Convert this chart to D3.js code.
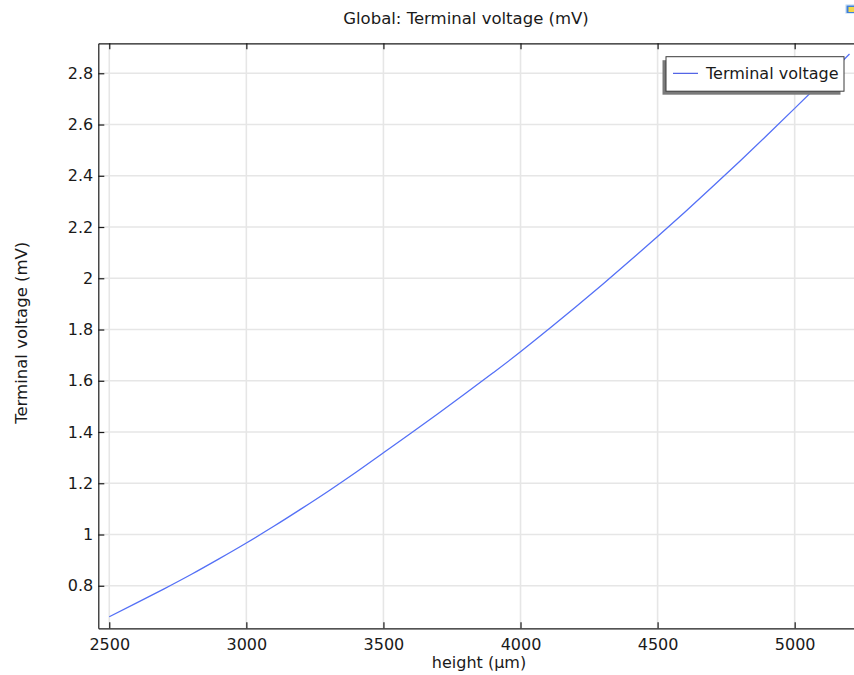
<!DOCTYPE html>
<html>
<head>
<meta charset="utf-8">
<script src="https://cdn.jsdelivr.net/npm/d3@7"></script>
<style>
  html, body { margin: 0; padding: 0; background: #fff; }
  svg { display: block; font-family: "DejaVu Sans", sans-serif; }
</style>
</head>
<body>
<svg id="chart" width="854" height="675"></svg>
<script>
// Parametric sweep: plate height (µm) vs. terminal voltage (mV)
const heights = [2500, 2600, 2700, 2800, 2900, 3000, 3100, 3200, 3300, 3400,
                 3500, 3600, 3700, 3800, 3900, 4000, 4100, 4200, 4300, 4400,
                 4500, 4600, 4700, 4800, 4900, 5000, 5100, 5200];
const voltages = [0.679, 0.733, 0.788, 0.845, 0.905, 0.967, 1.032, 1.100, 1.170, 1.243,
                  1.319, 1.395, 1.472, 1.551, 1.631, 1.713, 1.799, 1.887, 1.977, 2.069,
                  2.163, 2.259, 2.357, 2.457, 2.559, 2.663, 2.768, 2.875];
const xTicks = [2500, 3000, 3500, 4000, 4500, 5000];
const yTicks = [0.8, 1, 1.2, 1.4, 1.6, 1.8, 2, 2.2, 2.4, 2.6, 2.8];

const titleText = "Global: Terminal voltage (mV)";
const xTitle = "height (µm)";
const yTitle = "Terminal voltage (mV)";
const seriesName = "Terminal voltage";

const svg = d3.select("#chart");
const plot = { left: 98.3, top: 43.3, right: 858, bottom: 628.3 };

const x = d3.scaleLinear().domain([2460, 5231]).range([plot.left, plot.right]);
const y = d3.scaleLinear().domain([0.634, 2.917]).range([plot.bottom, plot.top]);

const lineColor = "#5470f6";
const fontSize = 16;

// Grid
const grid = svg.append("g").attr("stroke", "#e6e6e6").attr("stroke-width", 1.6);
grid.selectAll("line.v").data(xTicks).join("line")
  .attr("x1", d => x(d)).attr("x2", d => x(d))
  .attr("y1", plot.top).attr("y2", plot.bottom);
grid.selectAll("line.h").data(yTicks).join("line")
  .attr("x1", plot.left).attr("x2", plot.right)
  .attr("y1", d => y(d)).attr("y2", d => y(d));

// Axes with inward ticks
const axisStyle = g => {
  g.select(".domain").attr("stroke", "#1a1a1a").attr("stroke-width", 1.2);
  g.selectAll(".tick line").attr("stroke", "#1a1a1a").attr("stroke-width", 1.2);
  g.selectAll(".tick text").attr("fill", "#1a1a1a")
    .attr("font-size", fontSize).attr("font-family", "DejaVu Sans, sans-serif");
};

svg.append("g")
  .attr("transform", `translate(0,${plot.bottom})`)
  .call(d3.axisBottom(x).tickValues(xTicks).tickFormat(d3.format("d"))
        .tickSizeInner(-6).tickSizeOuter(0).tickPadding(10))
  .call(axisStyle);

svg.append("g")
  .attr("transform", `translate(0,${plot.top})`)
  .call(d3.axisTop(x).tickValues(xTicks).tickFormat("")
        .tickSizeInner(-6).tickSizeOuter(0))
  .call(axisStyle);

svg.append("g")
  .attr("transform", `translate(${plot.left},0)`)
  .call(d3.axisLeft(y).tickValues(yTicks).tickFormat(d => d3.format("")(+d.toFixed(1)))
        .tickSizeInner(-6).tickSizeOuter(0).tickPadding(5))
  .call(axisStyle);

// Curve
const pts = heights.map((h, i) => [h, voltages[i]]);
svg.append("path")
  .datum(pts)
  .attr("fill", "none")
  .attr("stroke", lineColor)
  .attr("stroke-width", 1.3)
  .attr("d", d3.line().x(d => x(d[0])).y(d => y(d[1])).curve(d3.curveMonotoneX));

// Titles
svg.append("text")
  .attr("x", 466).attr("y", 24)
  .attr("text-anchor", "middle").attr("font-size", 16.5).attr("fill", "#1a1a1a")
  .text(titleText);

svg.append("text")
  .attr("x", 479).attr("y", 668)
  .attr("text-anchor", "middle").attr("font-size", fontSize).attr("fill", "#1a1a1a")
  .text(xTitle);

svg.append("text")
  .attr("transform", `translate(27,${(plot.top + plot.bottom) / 2 - 3}) rotate(-90)`)
  .attr("text-anchor", "middle").attr("font-size", 16.5).attr("fill", "#1a1a1a")
  .text(yTitle);

// Legend with drop shadow
const lg = { x: 666, y: 56.7, w: 178, h: 34.5 };
svg.append("rect")
  .attr("x", lg.x - 3.5).attr("y", lg.y + 3.5).attr("width", lg.w).attr("height", lg.h)
  .attr("fill", "#7a7a7a");
svg.append("rect")
  .attr("x", lg.x).attr("y", lg.y).attr("width", lg.w).attr("height", lg.h)
  .attr("fill", "#fff").attr("stroke", "#3a3a3a").attr("stroke-width", 1);
svg.append("line")
  .attr("x1", lg.x + 7).attr("x2", lg.x + 32)
  .attr("y1", lg.y + 16.6).attr("y2", lg.y + 16.6)
  .attr("stroke", "#2a3fe0").attr("stroke-width", 1);
svg.append("text")
  .attr("x", lg.x + 40).attr("y", lg.y + 22.5)
  .attr("font-size", fontSize).attr("fill", "#1a1a1a")
  .text(seriesName);

// Toolbar icon in the corner
const icon = svg.append("g").attr("transform", "translate(845,4)");
icon.append("rect").attr("width", 10).attr("height", 10).attr("rx", 1.5)
  .attr("fill", "#d8e8f8");
icon.append("rect").attr("x", 1.5).attr("y", 1.5).attr("width", 8).attr("height", 7.5)
  .attr("fill", "#3f7fd8");
icon.append("rect").attr("x", 3.5).attr("y", 3).attr("width", 6).attr("height", 5)
  .attr("fill", "#f3d84a");
</script>
</body>
</html>
